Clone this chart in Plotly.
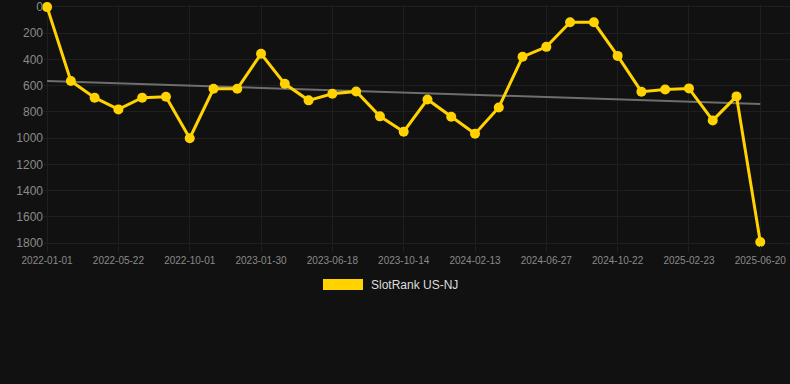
import numpy as np
import plotly.graph_objects as go

dates = [
    "2022-01-01", "2022-02-17", "2022-04-05", "2022-05-22", "2022-07-06", "2022-08-19",
    "2022-10-01", "2022-11-10", "2022-12-20", "2023-01-30", "2023-03-17", "2023-05-02",
    "2023-06-18", "2023-07-28", "2023-09-05", "2023-10-14", "2023-11-24", "2024-01-03",
    "2024-02-13", "2024-03-29", "2024-05-13", "2024-06-27", "2024-08-05", "2024-09-13",
    "2024-10-22", "2024-12-03", "2025-01-13", "2025-02-23", "2025-04-03", "2025-05-12",
    "2025-06-20",
]
ranks = [
    1, 565, 692, 781, 692, 685,
    1001, 624, 624, 357, 586, 712,
    662, 644, 834, 951, 705, 837,
    966, 766, 380, 304, 117, 117,
    373, 646, 629, 621, 865, 682,
    1792,
]
tick_labels = [
    "2022-01-01", "2022-05-22", "2022-10-01", "2023-01-30", "2023-06-18", "2023-10-14",
    "2024-02-13", "2024-06-27", "2024-10-22", "2025-02-23", "2025-06-20",
]
y_ticks = [0, 200, 400, 600, 800, 1000, 1200, 1400, 1600, 1800]
series_name = "SlotRank US-NJ"

GOLD = "#FFD200"
BG = "#111111"
GRID = "#1f1f1f"
FONT = "Liberation Sans, Arial, sans-serif"

idx = np.arange(len(ranks))
slope, intercept = np.polyfit(idx, np.array(ranks, dtype=float), 1)
trend = slope * idx + intercept

fig = go.Figure()
fig.add_trace(go.Scatter(
    x=idx, y=trend, mode="lines",
    line=dict(color="#6e6e6e", width=2),
    showlegend=False, hoverinfo="skip",
))
fig.add_trace(go.Scatter(
    x=idx, y=ranks, mode="lines+markers", name=series_name,
    line=dict(color=GOLD, width=3),
    marker=dict(color=GOLD, size=10),
    showlegend=False, cliponaxis=False,
    text=dates,
))

tick_vals = [dates.index(t) for t in tick_labels]

fig.update_layout(
    width=790, height=384,
    paper_bgcolor=BG, plot_bgcolor=BG,
    margin=dict(l=44, r=0, t=5, b=139),
    font=dict(family=FONT, color="#8a8a8a"),
    xaxis=dict(
        range=[-0.13, 31.25],
        tickmode="array", tickvals=tick_vals, ticktext=tick_labels,
        tickfont=dict(size=10, color="#8a8a8a"),
        showgrid=True, gridcolor=GRID, gridwidth=1,
        zeroline=False, showline=False,
        ticks="outside", ticklen=6, tickcolor=GRID,
    ),
    yaxis=dict(
        range=[1815, -15],
        tickmode="array", tickvals=y_ticks,
        tickfont=dict(size=12, color="#8a8a8a"),
        showgrid=True, gridcolor=GRID, gridwidth=1,
        zeroline=False, showline=False, ticks="",
    ),
    shapes=[dict(
        type="rect", xref="paper", yref="paper",
        x0=(323 - 44) / 746, x1=(363 - 44) / 746,
        y0=(384 - 139 - 290) / 240, y1=(384 - 139 - 279) / 240,
        fillcolor=GOLD, line=dict(width=0),
    )],
    annotations=[dict(
        text=series_name, xref="paper", yref="paper",
        x=(369 - 44) / 746, y=(384 - 139 - 284.5) / 240,
        xanchor="left", yanchor="middle", showarrow=False,
        font=dict(size=12, color="#dddddd", family=FONT),
    )],
)

fig.write_html(
    "out.html",
    config={"displayModeBar": False},
    post_script="document.body.style.margin='0';document.body.style.background='#111111';",
)
